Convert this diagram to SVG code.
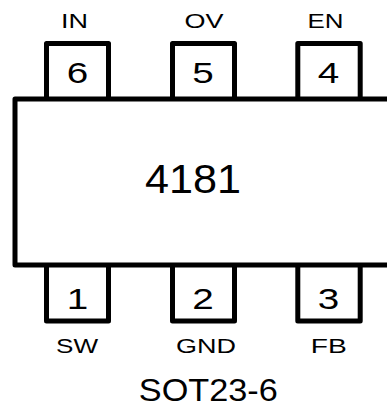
<svg xmlns="http://www.w3.org/2000/svg" width="387" height="407" viewBox="0 0 387 407">
  <style>
    .shape { fill: none; stroke: #000; stroke-width: 5; stroke-linejoin: round; }
    text { font-family: "Liberation Sans", Arial, sans-serif; fill: #000; text-anchor: middle; }
    .lbl { font-size: 21px; }
    .num { font-size: 30px; }
    .chip { font-size: 40px; }
    .pkg { font-size: 32px; }
  </style>
  <rect width="387" height="407" fill="#fff"/>
  <g id="body">
    <path class="shape" d="M400 99 H15 V265 H400"/>
    <text class="chip" x="193" y="193" textLength="96" lengthAdjust="spacingAndGlyphs">4181</text>
  </g>
  <g id="pin6">
    <path class="shape" d="M46.5 99 V43.5 H108.5 V99"/>
    <text class="num" x="77.5" y="83.3" textLength="21.5" lengthAdjust="spacingAndGlyphs">6</text>
    <text class="lbl" x="74.5" y="28.3" textLength="27" lengthAdjust="spacingAndGlyphs">IN</text>
  </g>
  <g id="pin5">
    <path class="shape" d="M172.5 99 V43.5 H234.5 V99"/>
    <text class="num" x="203" y="83.3" textLength="21.5" lengthAdjust="spacingAndGlyphs">5</text>
    <text class="lbl" x="204" y="28.3" textLength="39" lengthAdjust="spacingAndGlyphs">OV</text>
  </g>
  <g id="pin4">
    <path class="shape" d="M297.8 99 V43.5 H360.2 V99"/>
    <text class="num" x="328.5" y="83.3" textLength="21.5" lengthAdjust="spacingAndGlyphs">4</text>
    <text class="lbl" x="325.5" y="28.3" textLength="36" lengthAdjust="spacingAndGlyphs">EN</text>
  </g>
  <g id="pin1">
    <path class="shape" d="M46.5 265 V321 H108.5 V265"/>
    <text class="num" x="77.5" y="309.3" textLength="21.5" lengthAdjust="spacingAndGlyphs">1</text>
    <text class="lbl" x="77" y="353.3" textLength="42" lengthAdjust="spacingAndGlyphs">SW</text>
  </g>
  <g id="pin2">
    <path class="shape" d="M172.5 265 V321 H234.5 V265"/>
    <text class="num" x="203" y="309.3" textLength="21.5" lengthAdjust="spacingAndGlyphs">2</text>
    <text class="lbl" x="206" y="353.3" textLength="60" lengthAdjust="spacingAndGlyphs">GND</text>
  </g>
  <g id="pin3">
    <path class="shape" d="M297.8 265 V321 H360.2 V265"/>
    <text class="num" x="328.5" y="309.3" textLength="21.5" lengthAdjust="spacingAndGlyphs">3</text>
    <text class="lbl" x="328.7" y="353.3" textLength="36" lengthAdjust="spacingAndGlyphs">FB</text>
  </g>
  <g id="package-label">
    <text class="pkg" x="208.3" y="401" textLength="139" lengthAdjust="spacingAndGlyphs">SOT23-6</text>
  </g>
</svg>
